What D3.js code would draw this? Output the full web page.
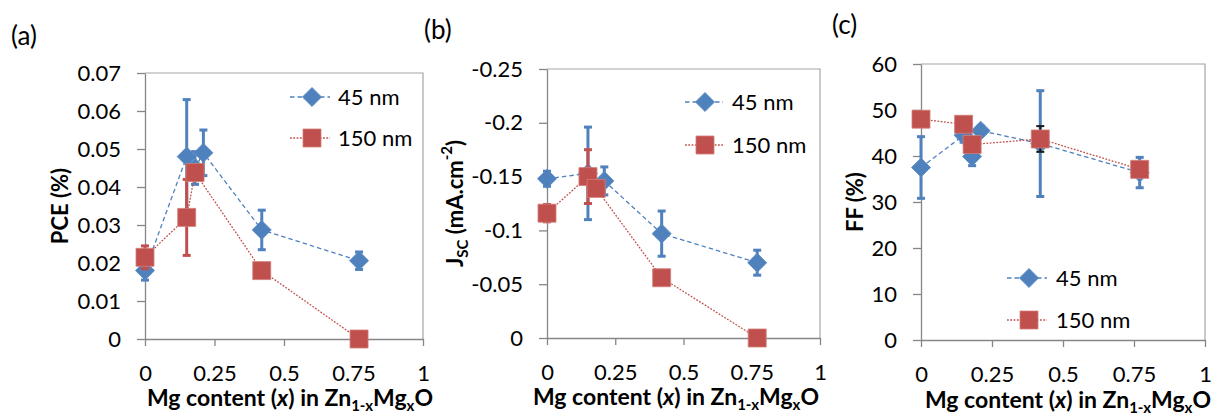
<!DOCTYPE html>
<html>
<head>
<meta charset="utf-8">
<script src="https://cdn.jsdelivr.net/npm/d3@7"></script>
<style>
  body { margin: 0; background: #fff; }
  svg { display: block; }
  text { font-family: Lato, "Open Sans", sans-serif; fill: #000; }
</style>
</head>
<body>
<svg id="chart" width="1217" height="416"></svg>
<script>
// Mg content of the Zn(1-x)Mg(x)O layers for each ZnO thickness
const mg45 = [0, 0.15, 0.18, 0.21, 0.42, 0.77];
const mg150 = [0, 0.15, 0.18, 0.42, 0.77];
const seriesNames = ["45 nm", "150 nm"];

// x axis ticks shared by all three panels
const xTickValues = [0, 0.25, 0.5, 0.75, 1];
const xTickLabels = ["0", "0.25", "0.5", "0.75", "1"];

// (a) power conversion efficiency, %
const pce45 = [0.018, 0.048, 0.045, 0.049, 0.0287, 0.0206];
const pce45Err = [0.0025, 0.015, 0.0043, 0.006, 0.0052, 0.0023];
const pce150 = [0.0215, 0.032, 0.0438, 0.018, 0];
const pce150Err = [0.003, 0.010, 0.001, 0, 0];
const pceTicks = [0, 0.01, 0.02, 0.03, 0.04, 0.05, 0.06, 0.07];
const pceTickLabels = ["0", "0.01", "0.02", "0.03", "0.04", "0.05", "0.06", "0.07"];

// (b) short-circuit current density, mA.cm-2
const jsc45 = [-0.148, -0.153, -0.140, -0.146, -0.097, -0.070];
const jsc45Err = [0.007, 0.043, 0.005, 0.013, 0.021, 0.0116];
const jsc150 = [-0.116, -0.150, -0.139, -0.056, 0];
const jsc150Err = [0.008, 0.025, 0.004, 0, 0];
const jscTicks = [0, -0.05, -0.1, -0.15, -0.2, -0.25];
const jscTickLabels = ["0", "-0.05", "-0.1", "-0.15", "-0.2", "-0.25"];

// (c) fill factor, %
const ff45 = [37.5, 44.5, 39.9, 45.5, 42.7, 36.4];
const ff45Err = [6.7, 1.5, 2.0, 1.0, 11.5, 3.3];
const ff150 = [48.0, 46.9, 42.5, 43.7, 37.1];
const ff150Err = [0, 0, 0, 2.8, 0];
const ffTicks = [0, 10, 20, 30, 40, 50, 60];
const ffTickLabels = ["0", "10", "20", "30", "40", "50", "60"];

const BLUE = "#4f81bd";
const RED = "#c0504d";
const AXIS = "#868686";
const FRAME = "#a6a6a6";

const svg = d3.select("#chart");

// Layout of each panel
const panels = [
  {
    tag: "(a)", tagX: 11, tagY: 45,
    left: 145, right: 423, top: 73, bottom: 339,
    yDomain: [0, 0.07], yTicks: pceTicks, yLabels: pceTickLabels,
    yTitle: [{ t: "PCE (%)" }], yTitleX: 60,
    xTitleX: 290, xTitleY: 406,
    legend: { x0: 290, x1: 330, mx: 312, tx: 338, ys: [97, 138] },
    s45: pce45, e45: pce45Err, s150: pce150, e150: pce150Err, e150Color: RED
  },
  {
    tag: "(b)", tagX: 424, tagY: 39,
    left: 547, right: 820, top: 69, bottom: 338,
    yDomain: [0, -0.25], yTicks: jscTicks, yLabels: jscTickLabels,
    yTitle: [{ t: "J" }, { t: "SC", sub: true }, { t: " (mA.cm" }, { t: "-2", sup: true }, { t: ")" }],
    yTitleX: 455,
    xTitleX: 676, xTitleY: 405,
    legend: { x0: 685, x1: 723, mx: 705, tx: 732, ys: [102, 145] },
    s45: jsc45, e45: jsc45Err, s150: jsc150, e150: jsc150Err, e150Color: RED
  },
  {
    tag: "(c)", tagX: 832, tagY: 34,
    left: 921, right: 1205, top: 64, bottom: 340,
    yDomain: [0, 60], yTicks: ffTicks, yLabels: ffTickLabels,
    yTitle: [{ t: "FF (%)" }], yTitleX: 855,
    xTitleX: 1068, xTitleY: 408,
    legend: { x0: 1007, x1: 1047, mx: 1029, tx: 1056, ys: [278, 320] },
    s45: ff45, e45: ff45Err, s150: ff150, e150: ff150Err, e150Color: "#1a1a1a"
  }
];

const diamond = d3.symbol(d3.symbolSquare, 182)();
const square = d3.symbol(d3.symbolSquare, 324)();

function drawMarker(g, kind, cx, cy) {
  if (kind === 0) {
    g.append("path").attr("d", diamond)
      .attr("transform", `translate(${cx},${cy}) rotate(45)`)
      .attr("fill", BLUE).attr("stroke", "#5b8cc6").attr("stroke-width", 0.8);
  } else {
    g.append("path").attr("d", square)
      .attr("transform", `translate(${cx},${cy})`)
      .attr("fill", RED).attr("stroke", "#d27d7a").attr("stroke-width", 0.8);
  }
}

// Appends text runs; subscripts/superscripts are smaller and shifted,
// and the following run steps back to the main baseline.
function addRich(textSel, parts, subSize, shift) {
  let back = 0;
  parts.forEach(p => {
    const ts = textSel.append("tspan").text(p.t);
    if (p.italic) ts.attr("font-style", "italic");
    let dy = back;
    back = 0;
    if (p.sub) { ts.attr("font-size", subSize); dy += shift; back = -shift; }
    else if (p.sup) { ts.attr("font-size", subSize); dy -= shift + 6; back = shift + 6; }
    if (dy !== 0) ts.attr("dy", dy);
  });
}

const xTitleParts = [
  { t: "Mg content (" }, { t: "x", italic: true }, { t: ") in Zn" },
  { t: "1-x", sub: true }, { t: "Mg" }, { t: "x", sub: true }, { t: "O" }
];

panels.forEach(p => {
  const x = d3.scaleLinear().domain([0, 1]).range([p.left, p.right]);
  const y = d3.scaleLinear().domain(p.yDomain).range([p.bottom, p.top]);
  const g = svg.append("g");

  // frame: top and right edges of the plot area
  g.append("path")
    .attr("d", `M${p.left},${p.top}H${p.right}V${p.bottom}`)
    .attr("fill", "none").attr("stroke", FRAME).attr("stroke-width", 1.2);

  // y axis
  const yAxis = g.append("g").attr("transform", `translate(${p.left},0)`)
    .call(d3.axisLeft(y).tickValues(p.yTicks)
      .tickFormat((d, i) => p.yLabels[i]).tickSize(8).tickSizeOuter(0).tickPadding(16));
  yAxis.selectAll("path, line").attr("stroke", AXIS).attr("stroke-width", 1.3);
  yAxis.selectAll("text").attr("font-size", 22).attr("font-family", "Lato, 'Open Sans', sans-serif").attr("fill", "#000");

  // x axis
  const xAxis = g.append("g").attr("transform", `translate(0,${p.bottom})`)
    .call(d3.axisBottom(x).tickValues(xTickValues)
      .tickFormat((d, i) => xTickLabels[i]).tickSize(7).tickSizeOuter(0).tickPadding(19));
  xAxis.selectAll("path, line").attr("stroke", AXIS).attr("stroke-width", 1.3);
  xAxis.selectAll("text").attr("font-size", 22).attr("font-family", "Lato, 'Open Sans', sans-serif").attr("fill", "#000");

  // panel tag
  g.append("text").attr("x", p.tagX).attr("y", p.tagY)
    .attr("font-size", 26).text(p.tag);

  // y title
  const yt = g.append("text")
    .attr("transform", `translate(${p.yTitleX},${(p.top + p.bottom) / 2}) rotate(-90)`)
    .attr("text-anchor", "middle").attr("dy", "0.35em")
    .attr("font-size", 22).attr("font-weight", "bold");
  addRich(yt, p.yTitle, 15, 5);

  // x title
  const xt = g.append("text")
    .attr("x", p.xTitleX).attr("y", p.xTitleY)
    .attr("text-anchor", "middle")
    .attr("font-size", 23).attr("font-weight", "bold");
  addRich(xt, xTitleParts, 15, 5);

  const series = [
    { xs: mg45, vs: p.s45, es: p.e45, color: BLUE, barColor: BLUE, barWidth: 3, dash: "4.5,3", kind: 0 },
    { xs: mg150, vs: p.s150, es: p.e150, color: RED, barColor: p.e150Color,
      barWidth: p.e150Color === RED ? 3 : 2, dash: "1.8,1.5", kind: 1 }
  ];

  const line = d3.line().x(d => x(d[0])).y(d => y(d[1]));

  series.forEach(s => {
    const pts = s.xs.map((xv, i) => [xv, s.vs[i], s.es[i]]);
    g.append("path").attr("d", line(pts))
      .attr("fill", "none").attr("stroke", s.color).attr("stroke-width", 1.3)
      .attr("stroke-dasharray", s.dash);

    const bars = g.append("g").attr("stroke", s.barColor).attr("stroke-width", s.barWidth);
    pts.filter(d => d[2] > 0).forEach(d => {
      const cx = x(d[0]), y1 = y(d[1] - d[2]), y2 = y(d[1] + d[2]);
      bars.append("line").attr("x1", cx).attr("x2", cx).attr("y1", y1).attr("y2", y2);
      bars.append("line").attr("x1", cx - 4).attr("x2", cx + 4).attr("y1", y1).attr("y2", y1);
      bars.append("line").attr("x1", cx - 4).attr("x2", cx + 4).attr("y1", y2).attr("y2", y2);
    });

    pts.forEach(d => drawMarker(g, s.kind, x(d[0]), y(d[1])));
  });

  // legend
  series.forEach((s, i) => {
    const ly = p.legend.ys[i];
    g.append("line").attr("x1", p.legend.x0).attr("x2", p.legend.x1)
      .attr("y1", ly).attr("y2", ly)
      .attr("stroke", s.color).attr("stroke-width", 1.3).attr("stroke-dasharray", s.dash);
    drawMarker(g, s.kind, p.legend.mx, ly);
    g.append("text").attr("x", p.legend.tx).attr("y", ly).attr("dy", "0.36em")
      .attr("font-size", 22).text(seriesNames[i]);
  });
});
</script>
</body>
</html>
